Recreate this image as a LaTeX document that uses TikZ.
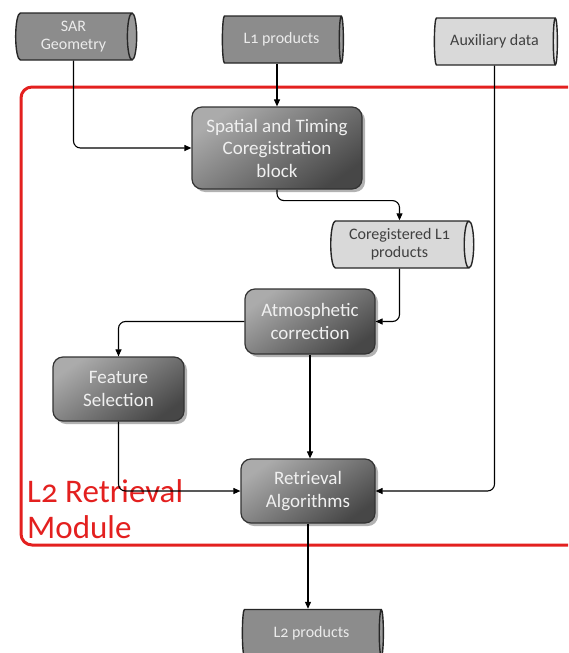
\documentclass[tikz,border=0pt]{standalone}
\usepackage{fontspec}
\setmainfont{Carlito}[Numbers=OldStyle]
\usetikzlibrary{shapes.geometric,arrows.meta,shadows}
\definecolor{modframe}{HTML}{E3201F}

\begin{document}
\begin{tikzpicture}[x=1pt,y=-1pt,
  proc/.style={rectangle, rounded corners=10pt, draw=black!80, line width=1.2pt,
    top color=black!33, bottom color=black!72, shading angle=35,
    drop shadow={shadow xshift=3pt,shadow yshift=-3pt,opacity=0.3,fill=black},
    text=white!94!black, font=\fontsize{19}{22.5}\selectfont, align=center, inner sep=0pt},
  store/.style={cylinder, shape border rotate=0, aspect=0.3, draw=black!85, line width=1.4pt,
    cylinder uses custom fill, inner sep=0pt, align=center, font=\fontsize{16}{18}\selectfont},
  darkstore/.style={store, cylinder body fill=black!45, cylinder end fill=black!40, text=white!92!black},
  lightstore/.style={store, cylinder body fill=black!15, cylinder end fill=black!11, text=black!75},
  conn/.style={draw=black, line width=1.1pt, rounded corners=7pt, -{Triangle[length=7pt,width=6pt]}},
]
\useasboundingbox (0,0) rectangle (568,653);
\clip (0,0) rectangle (568,653);

% module frame and its title
\draw[modframe, line width=3pt, rounded corners=11pt] (21,87) rectangle (620,545);
\node[anchor=base west, text=modframe, font=\fontsize{33}{36}\selectfont, align=left, inner sep=0pt]
  (modlbl) at (27,538) {L2 Retrieval\\Module};

% data stores (cylinder: minimum height runs along the axis)
\node[darkstore, minimum height=121pt, minimum width=47pt] (sar) at (73.5,36.5) {SAR\\Geometry};
\node[darkstore, minimum height=121pt, minimum width=47pt] (l1) at (281.5,39.5) {L1 products};
\node[lightstore, minimum height=123pt, minimum width=47pt] (aux) at (494.5,41.5) {Auxiliary data};
\node[lightstore, minimum height=143pt, minimum width=47pt] (coreg) at (399.5,244.5) {Coregistered L1\\products};
\node[darkstore, minimum height=141pt, minimum width=47pt] (l2) at (311.5,633) {L2 products};

% processing blocks
\node[proc, minimum width=170pt, minimum height=82pt] (spat) at (277,148) {Spatial and Timing\\Coregistration\\block};
\node[proc, minimum width=130pt, minimum height=65pt] (atm) at (310,321.5) {Atmosphetic\\correction};
\node[proc, minimum width=131pt, minimum height=64pt] (feat) at (118.5,389) {Feature\\Selection};
\node[proc, minimum width=134pt, minimum height=64pt] (ret) at (308,491) {Retrieval\\Algorithms};

% data flow
\draw[conn] (sar) |- (spat.west);
\draw[conn] (spat.north |- l1.south) -- (spat.north);
\draw[conn] (spat.south) -- ++(0,11) -| (coreg.north);
\draw[conn] (coreg.south) |- (atm.east);
\draw[conn] (atm.west) -| (feat.north);
\draw[conn] (atm.south) -- (atm.south |- ret.north);
\draw[conn] (feat.south) |- (ret.west);
\draw[conn] (aux.south) |- (ret.east);
\draw[conn] (ret.south) -- (ret.south |- l2.north);
\end{tikzpicture}
\end{document}
